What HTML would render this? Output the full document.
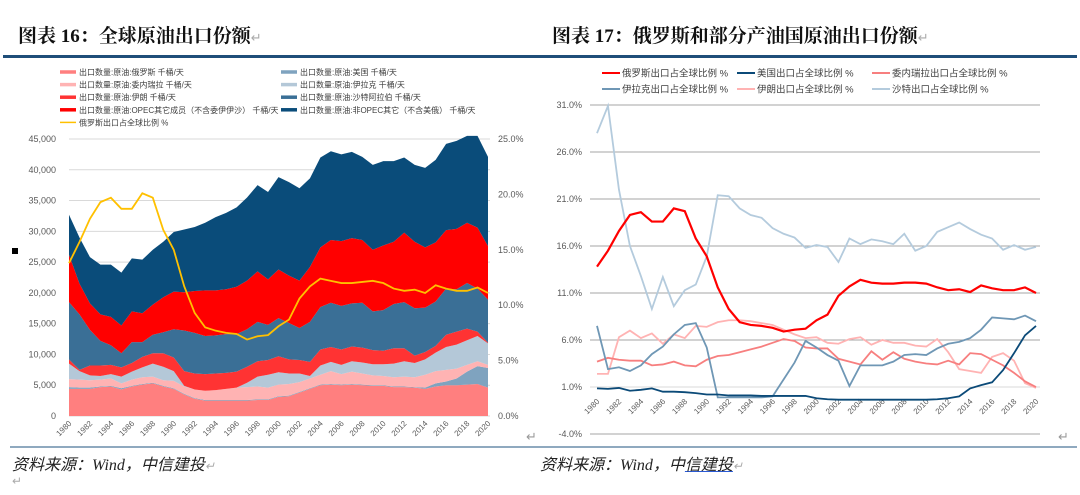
<!DOCTYPE html>
<html><head><meta charset="utf-8">
<style>
body{margin:0;background:#fff;width:1080px;height:495px;overflow:hidden;position:relative;font-family:"Liberation Sans","Noto Sans CJK SC",sans-serif}
.t{position:absolute;font-family:"Liberation Serif","Noto Serif CJK SC",serif;font-weight:bold;font-size:19px;color:#111;top:21px;white-space:nowrap}
.f{position:absolute;top:451px;font-family:"Liberation Serif","Noto Sans CJK SC",serif;font-style:italic;font-size:16px;color:#222;white-space:nowrap}
svg{position:absolute;left:0;top:0}
</style></head><body>
<div class="t" style="left:18px">图表 16：全球原油出口份额<span style="color:#aaa;font-weight:normal;font-size:13px">↵</span></div>
<div class="t" style="left:552px">图表 17：俄罗斯和部分产油国原油出口份额<span style="color:#aaa;font-weight:normal;font-size:13px">↵</span></div>
<div style="position:absolute;left:3px;top:55px;width:1074px;height:3px;background:#1f4e79"></div>
<div style="position:absolute;left:10px;top:446px;width:1067px;height:2px;background:#8fa9bf"></div>
<div class="f" style="left:12px">资料来源：Wind，中信建投<span style="color:#aaa;font-size:12px">↵</span></div>
<div class="f" style="left:540px">资料来源：Wind，中<span style="text-decoration:underline;text-decoration-color:#2a5bd7">信建投</span><span style="color:#aaa;font-size:12px">↵</span></div>
<div style="position:absolute;left:12px;top:474px;color:#aaa;font-size:12px">↵</div>
<div style="position:absolute;left:12px;top:248px;width:6px;height:6px;background:#000"></div>
<div style="position:absolute;left:526px;top:429px;color:#999;font-size:13px">↵</div>
<div style="position:absolute;left:1058px;top:429px;color:#999;font-size:13px">↵</div>
<svg id="c" width="1080" height="495"></svg>
<script>
const years=[];for(let y=1980;y<=2020;y++)years.push(y);
// Left chart (thousand barrels/day)
const russia=[4.4,4.4,4.4,4.7,4.8,4.3,4.8,5.1,5.3,4.8,4.4,3.5,2.8,2.5,2.5,2.5,2.5,2.5,2.6,2.6,3.1,3.2,3.8,4.4,5.0,5.1,5.0,5.1,5.0,4.9,4.9,4.7,4.7,4.6,4.4,4.8,5.0,5.0,5.1,5.2,4.6];
const usa=[0.3,0.2,0.2,0.1,0.1,0.2,0.1,0.1,0.1,0.1,0.1,0.1,0.1,0.1,0.1,0.1,0.1,0.1,0.1,0.1,0.1,0.1,0.1,0.1,0.1,0.1,0.1,0.1,0.1,0.1,0.1,0.1,0.1,0.1,0.2,0.5,0.6,1.1,2.1,2.9,3.2];
const venezuela=[1.3,1.3,1.2,1.1,1.2,0.8,1.0,1.1,1.0,0.9,1.2,1.2,1.4,1.5,1.6,1.8,2.0,2.1,2.1,1.9,1.9,1.9,1.6,1.6,1.6,2.1,1.7,2.0,1.8,1.6,1.5,1.5,1.6,1.6,2.1,2.0,1.9,1.6,1.1,0.8,0.5];
const iraq=[2.5,1.4,0.8,0.6,0.7,1.1,1.3,1.6,2.1,2.2,1.6,0.1,0,0,0,0,0,0.7,1.6,2.1,2.0,1.7,1.4,0.4,1.5,1.5,1.5,1.7,1.8,1.8,1.9,2.2,2.5,2.3,2.5,3.0,3.7,3.9,4.0,4.1,3.5];
const iran=[0.7,0.2,1.6,1.7,1.5,1.5,1.4,1.7,1.7,2.2,2.2,2.4,2.6,2.7,2.7,2.6,2.6,2.6,2.5,2.4,2.6,2.3,2.2,2.3,2.6,2.4,2.5,2.4,2.4,2.3,2.2,2.5,2.1,1.2,1.2,1.1,2.0,2.1,1.9,0.7,0.1];
const saudi=[9.3,9.0,5.8,4.0,3.2,2.3,3.4,2.4,3.0,3.4,4.6,6.6,6.6,6.2,6.2,6.3,6.1,6.1,6.4,5.7,6.2,5.9,5.2,6.5,6.9,7.2,7.1,7.0,7.3,6.3,6.6,7.2,7.5,7.7,7.2,7.2,7.5,6.9,7.4,7.0,7.0];
const opecOther=[7.7,5.0,4.3,4.3,4.6,4.5,5.0,4.7,4.9,5.7,6.1,6.2,6.8,7.4,7.3,7.3,7.7,7.9,8.2,7.4,7.9,7.7,7.7,8.9,9.7,10.2,10.5,10.6,10.2,10.0,10.5,10.1,11.3,10.8,9.8,9.6,9.5,9.8,9.8,9.9,8.7];
const nonOpec=[6.5,7.5,7.5,8.1,8.5,8.6,8.6,8.7,8.9,9.0,9.7,10.2,10.4,11.0,11.9,12.4,12.9,13.5,14.0,14.2,15.0,15.2,15.0,14.4,14.6,14.4,14.1,14.0,13.5,13.8,13.7,13.1,12.2,12.5,12.9,13.4,14.0,14.3,14.1,14.9,14.5];
const russiaShare=[13.8,15.7,17.8,19.3,19.7,18.7,18.7,20.1,19.7,16.8,15.0,11.7,9.3,8.0,7.7,7.5,7.4,6.9,7.2,7.3,8.1,8.7,10.6,11.7,12.4,12.2,12.0,12.0,12.1,12.2,12.0,11.5,11.3,11.4,11.1,11.8,11.5,11.3,11.3,11.6,11.1];
const leftTicks=[0,5000,10000,15000,20000,25000,30000,35000,40000,45000];
const rightTicks=[0,5,10,15,20,25];
// Right chart (%)
const rRussia=[13.8,15.5,17.6,19.3,19.6,18.6,18.6,20.0,19.7,16.8,14.9,11.6,9.3,7.9,7.6,7.5,7.3,6.9,7.1,7.2,8.1,8.7,10.7,11.7,12.4,12.1,12.0,12.0,12.1,12.1,12.0,11.6,11.3,11.4,11.1,11.8,11.5,11.3,11.3,11.6,11.0];
const rUS=[0.85,0.8,0.9,0.6,0.7,0.85,0.5,0.5,0.45,0.35,0.2,0.2,0.1,0.1,0.1,0.05,0.05,0.05,0.05,0.05,-0.2,-0.3,-0.35,-0.35,-0.35,-0.35,-0.35,-0.35,-0.35,-0.35,-0.35,-0.3,-0.2,0.0,0.85,1.2,1.5,2.8,4.6,6.5,7.5];
const rVenezuela=[3.7,4.1,3.9,3.8,3.8,3.3,3.4,3.7,3.3,3.2,3.9,4.3,4.4,4.7,5.0,5.3,5.7,6.1,5.9,5.2,5.1,5.1,4.0,3.7,3.4,4.8,3.9,4.7,4.0,3.7,3.5,3.4,3.8,3.4,4.6,4.5,3.9,3.3,2.5,1.6,1.0];
const rIraq=[7.5,2.9,3.1,2.7,3.3,4.5,5.3,6.6,7.6,7.8,5.2,-0.1,-0.1,-0.1,-0.1,-0.1,0.0,1.8,3.6,5.9,5.2,4.4,3.8,1.1,3.3,3.3,3.3,3.7,4.4,4.5,4.4,5.1,5.6,5.8,6.2,7.1,8.4,8.3,8.2,8.6,8.0];
const rIran=[2.4,2.4,6.3,7.0,6.2,6.7,5.6,6.6,6.2,7.5,7.4,7.9,8.1,8.1,8.0,7.8,7.6,7.1,6.6,6.2,6.3,5.7,5.6,6.1,6.3,5.5,6.0,5.7,5.7,5.4,5.3,6.1,4.7,2.9,2.7,2.5,4.2,4.6,3.8,1.4,0.9];
const rSaudi=[28.0,30.9,22.0,16.0,12.8,9.3,12.7,9.6,11.3,11.9,14.9,21.4,21.3,20.0,19.3,19.0,17.9,17.3,16.9,15.8,16.1,15.9,14.3,16.8,16.2,16.7,16.5,16.2,17.3,15.5,16.0,17.5,18.0,18.5,17.8,17.2,16.8,15.6,16.1,15.6,15.9];
const rTicks=[-4,1,6,11,16,21,26,31];

const S=document.getElementById('c');const NS='http://www.w3.org/2000/svg';
function mk(t,a,txt){const e=document.createElementNS(NS,t);for(const k in a)e.setAttribute(k,a[k]);if(txt!==undefined)e.textContent=txt;S.appendChild(e);return e;}
// Left axes
const lx=i=>69+(488-69)*i/(years.length-1);
const ly=v=>416-(416-139)*v/45000;
const ly2=v=>416-(416-139)*v/25;
leftTicks.forEach(v=>{
 const g=mk('line',{x1:69,x2:490,y1:ly(v),y2:ly(v),stroke:'#d9d9d9','stroke-width':1});
 
 const t=mk('text',{x:56,y:ly(v)+3,'text-anchor':'end','font-size':9,fill:'#595959'},v.toLocaleString('en-US'));
 
});
rightTicks.forEach(v=>{
 const t=mk('text',{x:498,y:ly2(v)+3,'font-size':9,fill:'#595959'},v.toFixed(1)+'%');
 
});
years.forEach((y,i)=>{if(i%2)return;
 const t=mk('text',{x:lx(i)+3,y:424,'font-size':8,fill:'#595959','text-anchor':'end',transform:`rotate(-45 ${lx(i)+3} 424)`},y);
 
});
const layers=[[russia,'#ff7f7f','area-russia'],[usa,'#7fa3bf','area-usa'],[venezuela,'#ffb3b3','area-venezuela'],[iraq,'#b4c8d8','area-iraq'],[iran,'#ff3333','area-iran'],[saudi,'#3a6f96','area-saudi'],[opecOther,'#ff0000','area-opec-other'],[nonOpec,'#0a4c7a','area-non-opec-other']];
let base=years.map(()=>0);
layers.forEach(([arr,col,name])=>{
 const top=base.map((b,i)=>b+arr[i]*1000);
 let d='M'+top.map((v,i)=>lx(i)+','+ly(v)).join('L');
 for(let i=years.length-1;i>=0;i--)d+='L'+lx(i)+','+ly(base[i]);
 const p=mk('path',{d:d+'Z',fill:col});
 
 base=top;
});
{const p=mk('polyline',{points:russiaShare.map((v,i)=>lx(i)+','+ly2(v)).join(' '),fill:'none',stroke:'#ffc000','stroke-width':1.8});
}
const lleg=[['出口数量:原油:俄罗斯 千桶/天','#ff7f7f'],['出口数量:原油:美国 千桶/天','#7fa3bf'],['出口数量:原油:委内瑞拉 千桶/天','#ffb3b3'],['出口数量:原油:伊拉克 千桶/天','#b4c8d8'],['出口数量:原油:伊朗 千桶/天','#ff3333'],['出口数量:原油:沙特阿拉伯 千桶/天','#3a6f96'],['出口数量:原油:OPEC其它成员（不含委伊伊沙） 千桶/天','#ff0000'],['出口数量:原油:非OPEC其它（不含美俄） 千桶/天','#0a4c7a'],['俄罗斯出口占全球比例 %','#ffc000']];
lleg.forEach((e,i)=>{const c=i%2,r=Math.floor(i/2);const x=c?281:60,y=72+r*12.6;
 const l=mk('line',{x1:x,x2:x+16,y1:y,y2:y,stroke:e[1],'stroke-width':i==8?1.5:3.5});
 
 const t=mk('text',{x:x+19,y:y+3,'font-size':8,fill:'#404040'},e[0]);
 
});
// Right chart
const rx=i=>597+(1036-597)*i/(years.length-1);
const ry=v=>387-(387-105)*(v-1)/30;
rTicks.forEach(v=>{
 const g=mk('line',{x1:590,x2:1040,y1:ry(v),y2:ry(v),stroke:v==1?'#d9d9d9':'#a6a6a6','stroke-width':1});
 
 const t=mk('text',{x:582,y:ry(v)+3,'text-anchor':'end','font-size':9,fill:'#595959'},v.toFixed(1)+'%');
 
});
years.forEach((y,i)=>{if(i%2)return;
 const t=mk('text',{x:rx(i)+3,y:402,'font-size':8,fill:'#595959','text-anchor':'end',transform:`rotate(-45 ${rx(i)+3} 402)`},y);
 
});
const rser=[[rSaudi,'#b4cbdd','line-saudi',1.8],[rIran,'#ffb3b3','line-iran',1.8],[rVenezuela,'#f77f7f','line-venezuela',1.8],[rIraq,'#6f97b5','line-iraq',1.8],[rUS,'#0b4a78','line-usa',1.8],[rRussia,'#ff0000','line-russia',2.2]];
rser.forEach(([arr,col,name,w])=>{
 const p=mk('polyline',{points:arr.map((v,i)=>rx(i)+','+ry(v)).join(' '),fill:'none',stroke:col,'stroke-width':w});
 
});
const rleg=[['俄罗斯出口占全球比例 %','#ff0000'],['美国出口占全球比例 %','#0b4a78'],['委内瑞拉出口占全球比例 %','#f77f7f'],['伊拉克出口占全球比例 %','#6f97b5'],['伊朗出口占全球比例 %','#ffb3b3'],['沙特出口占全球比例 %','#b4cbdd']];
rleg.forEach((e,i)=>{const c=i%3,r=Math.floor(i/3);const x=[602,737,872][c],y=73+r*16;
 const l=mk('line',{x1:x,x2:x+18,y1:y,y2:y,stroke:e[1],'stroke-width':2});
 
 const t=mk('text',{x:x+20,y:y+3.5,'font-size':9.5,fill:'#404040'},e[0]);
 
});
</script>
</body></html>
